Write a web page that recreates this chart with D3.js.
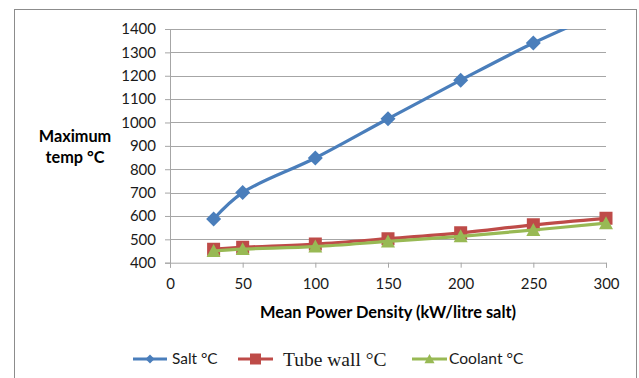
<!DOCTYPE html>
<html><head><meta charset="utf-8">
<script src="https://cdn.jsdelivr.net/npm/d3@7"></script>
<style>body{margin:0;background:#fff}svg{display:block}</style>
</head><body>
<script>
const xValues = [30, 50, 100, 150, 200, 250, 300];
const saltValues = [587, 700, 848, 1016, 1181, 1340, 1478];
const tubeWallValues = [458, 466, 480, 503, 528, 562, 590];
const coolantValues = [450, 458, 469, 491, 513, 540, 569];
const xTicks = [0, 50, 100, 150, 200, 250, 300];
const yTicks = [400, 500, 600, 700, 800, 900, 1000, 1100, 1200, 1300, 1400];
const seriesNames = ["Salt °C", "Tube wall °C", "Coolant °C"];
const xTitle = "Mean Power Density (kW/litre salt)";
const yTitleLines = ["Maximum", "temp °C"];

const W = 639, H = 378;
const svg = d3.select("body").append("svg").attr("width", W).attr("height", H);
svg.append("rect").attr("x", 14.5).attr("y", 9.5).attr("width", 622).attr("height", 380)
  .attr("fill", "#fff").attr("stroke", "#8c8c8c").attr("stroke-width", 1);

const x = d3.scaleLinear().domain([0, 300]).range([170, 606]);
const y = d3.scaleLinear().domain([400, 1400]).range([262.7, 29]);
const font = "Lato, 'Open Sans', sans-serif";

// gridlines
svg.append("g").selectAll("line").data(yTicks.slice(1)).join("line")
  .attr("x1", x(0)).attr("x2", x(300)).attr("y1", d => Math.round(y(d)) + 0.5).attr("y2", d => Math.round(y(d)) + 0.5)
  .attr("stroke", "#a6a6a6").attr("stroke-width", 1);

// y axis
const yAxis = svg.append("g").attr("transform", `translate(${x(0)},0)`)
  .call(d3.axisLeft(y).tickValues(yTicks).tickSize(5).tickPadding(9).tickFormat(d3.format("d")));
yAxis.select(".domain").attr("stroke", "#a6a6a6");
yAxis.selectAll(".tick line").attr("stroke", "#a6a6a6");
yAxis.selectAll("text").attr("font-family", font).attr("font-size", 15).attr("fill", "#1a1a1a");

// x axis
const xAxis = svg.append("g").attr("transform", `translate(0,${y(400)})`)
  .call(d3.axisBottom(x).tickValues(xTicks).tickSize(5).tickPadding(11).tickFormat(d3.format("d")));
xAxis.select(".domain").attr("stroke", "#a6a6a6");
xAxis.selectAll(".tick line").attr("stroke", "#a6a6a6");
xAxis.selectAll("text").attr("font-family", font).attr("font-size", 15).attr("fill", "#1a1a1a");

// titles
svg.append("text").attr("x", 388).attr("y", 318).attr("text-anchor", "middle")
  .attr("font-family", font).attr("font-weight", "bold").attr("font-size", 16.4).attr("fill", "#000").text(xTitle);
svg.append("g").selectAll("text").data(yTitleLines).join("text")
  .attr("x", 75).attr("y", (d, i) => 142 + i * 21).attr("text-anchor", "middle")
  .attr("font-family", font).attr("font-weight", "bold").attr("font-size", 16.3).attr("fill", "#000").text(d => d);

svg.append("clipPath").attr("id", "clip").append("rect")
  .attr("x", x(0)).attr("y", y(1400)).attr("width", x(300) - x(0) + 10).attr("height", y(400) - y(1400) + 10);

const colors = ["#4a7ebb", "#be4b48", "#98b954"];
// marker shapes: rotated square diamond, square, triangle
const markerPath = (type, s) => {
  const h = s / 2;
  if (type === 0) return `M0,${-h}L${h},0L0,${h}L${-h},0Z`;
  if (type === 1) return `M${-h},${-h}H${h}V${h}H${-h}Z`;
  return `M0,${-h}L${h},${h * 0.85}H${-h}Z`;
};
const markerSizes = [15, 13, 14];
const allSeries = [saltValues, tubeWallValues, coolantValues];
const line = d3.line().x(d => x(d[0])).y(d => y(d[1])).curve(d3.curveCatmullRom.alpha(0.5));

allSeries.forEach((vals, si) => {
  const pts = xValues.map((xv, i) => [xv, vals[i]]);
  const g = svg.append("g").attr("clip-path", "url(#clip)");
  g.append("path").datum(pts).attr("d", line).attr("fill", "none")
    .attr("stroke", colors[si]).attr("stroke-width", 3.2).attr("stroke-linejoin", "round");
  g.selectAll("path.m").data(pts.filter(p => p[1] <= 1400)).join("path").attr("class", "m")
    .attr("transform", p => `translate(${x(p[0])},${y(p[1])})`)
    .attr("d", markerPath(si, markerSizes[si])).attr("fill", colors[si]);
});

// legend
const legend = [
  {x0: 133, x1: 167, tx: 172, font: font, size: 15.4, ms: 9},
  {x0: 238, x1: 273, tx: 283, font: "'Liberation Serif', 'Times New Roman', serif", size: 19.5, ms: 11},
  {x0: 412, x1: 447, tx: 449, font: font, size: 15.6, ms: 10}
];
const ly = 359;
legend.forEach((L, i) => {
  svg.append("line").attr("x1", L.x0).attr("x2", L.x1).attr("y1", ly).attr("y2", ly)
    .attr("stroke", colors[i]).attr("stroke-width", 3.2);
  svg.append("path").attr("transform", `translate(${(L.x0 + L.x1) / 2},${ly})`)
    .attr("d", markerPath(i, L.ms)).attr("fill", colors[i]);
  svg.append("text").attr("x", L.tx).attr("y", ly).attr("dy", "0.35em")
    .attr("font-family", L.font).attr("font-size", L.size).attr("fill", "#1a1a1a").text(seriesNames[i]);
});
</script>
</body></html>
